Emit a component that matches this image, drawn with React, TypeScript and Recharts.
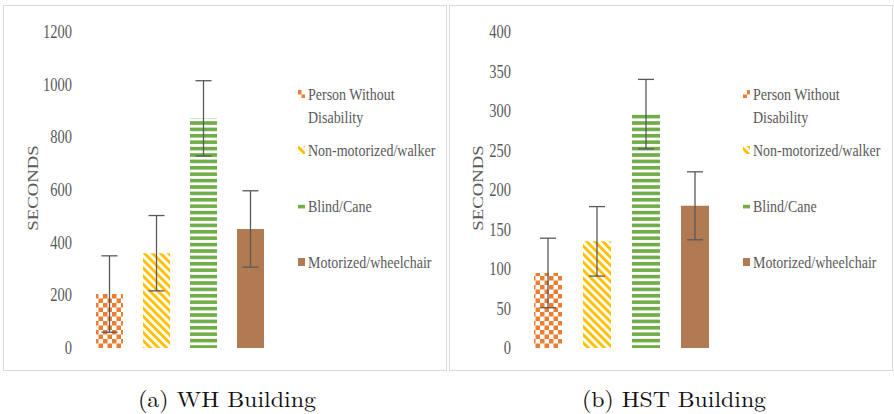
import React from 'react';
import { BarChart, Bar, XAxis, YAxis, ErrorBar } from 'recharts';

const categories = ['Person Without Disability', 'Non-motorized/walker', 'Blind/Cane', 'Motorized/wheelchair'];
const legendLines = [['Person Without', 'Disability'], ['Non-motorized/walker'], ['Blind/Cane'], ['Motorized/wheelchair']];
const whValues = [205, 360, 872, 452];
const whErrors = [145, 143, 143, 145];
const hstValues = [95, 135, 296, 180];
const hstErrors = [44, 44, 44, 43];
const whTicks = [0, 200, 400, 600, 800, 1000, 1200];
const hstTicks = [0, 50, 100, 150, 200, 250, 300, 350, 400];
const captions = ['(a) WH Building', '(b) HST Building'];
const yAxisTitle = 'SECONDS';

const fills = ['url(#pCheck)', 'url(#pDiag)', 'url(#pHoriz)', '#B27A52'];
const TEXT = '#595959';
const SERIF = 'Liberation Serif';
const CM = 'Latin Modern Roman';
const SY = 1.25;

const buildRow = (values: number[], errors: number[]) => {
  const row: Record<string, any> = { name: 'all' };
  values.forEach((v, i) => {
    row['v' + i] = v;
    row['e' + i] = errors[i];
  });
  return [row];
};

const Tick = (props: any) => {
  const { x, y, payload } = props;
  return (
    <g transform={`translate(${x},${y}) scale(1,${SY})`}>
      <text x={0} y={0} textAnchor="end" dominantBaseline="central" fill={TEXT} fontFamily={SERIF} fontSize={14.5}>
        {payload.value}
      </text>
    </g>
  );
};

const AxisTitle = (dx: number) => (props: any) => {
  const vb = props.viewBox || { x: 0, y: 0, width: 0, height: 0 };
  const cx = vb.x + dx;
  const cy = vb.y + vb.height / 2 - 2;
  return (
    <g transform={`translate(${cx},${cy}) scale(1,${SY}) rotate(-90)`}>
      <text x={0} y={0} textAnchor="middle" dominantBaseline="central" fill={TEXT} fontFamily={SERIF} fontSize={15}>
        {yAxisTitle}
      </text>
    </g>
  );
};

type PanelProps = {
  left: number;
  values: number[];
  errors: number[];
  ticks: number[];
  yWidth: number;
  tickMargin: number;
  marginRight: number;
  barSize: number;
  barGap: number;
  titleDx: number;
};

const Panel = (p: PanelProps) => {
  const data = buildRow(p.values, p.errors);
  return (
    <div
      style={{
        position: 'absolute',
        left: p.left,
        top: 5,
        width: 444,
        height: 366,
        border: '1px solid #d9d9d9',
        boxSizing: 'border-box',
        background: '#fff',
      }}
    >
      <BarChart
        width={442}
        height={364}
        data={data}
        margin={{ top: 26, right: p.marginRight, bottom: 22, left: 0 }}
        barSize={p.barSize}
        barGap={p.barGap}
      >
        <XAxis dataKey="name" hide />
        <YAxis
          width={p.yWidth}
          domain={[p.ticks[0], p.ticks[p.ticks.length - 1]]}
          ticks={p.ticks}
          axisLine={false}
          tickLine={false}
          tickSize={0}
          tickMargin={p.tickMargin}
          tick={<Tick />}
          interval={0}
          label={{ content: AxisTitle(p.titleDx) } as any}
        />
        {categories.map((c, i) => (
          <Bar key={c} dataKey={'v' + i} name={c} fill={fills[i]} isAnimationActive={false}>
            <ErrorBar dataKey={'e' + i} width={8} stroke="#595959" strokeWidth={1.3} direction="y" />
          </Bar>
        ))}
      </BarChart>
    </div>
  );
};

const legendCenters = [94, 150, 206, 262];

const Legend = ({ markerX }: { markerX: number }) => (
  <g>
    {legendLines.map((lines, i) => (
      <g key={i}>
        <rect x={markerX} y={legendCenters[i] - 4} width={7} height={8} fill={fills[i]} />
        {lines.map((ln, j) => (
          <g key={j} transform={`translate(${markerX + 10},${legendCenters[i] + j * 23}) scale(1,${SY})`}>
            <text x={0} y={0} dominantBaseline="central" fill={TEXT} fontFamily={SERIF} fontSize={14}>
              {ln}
            </text>
          </g>
        ))}
      </g>
    ))}
  </g>
);

export default function App() {
  return (
    <div style={{ position: 'absolute', left: 0, top: 0, width: 894, height: 414, background: '#fff', overflow: 'hidden' }}>
      <svg width={0} height={0} style={{ position: 'absolute' }}>
        <defs>
          <pattern id="pCheck" width={9} height={9} patternUnits="userSpaceOnUse">
            <rect x={0} y={0} width={9} height={9} fill="#fff" />
            <rect x={0} y={0} width={4.5} height={4.5} fill="#ED7D31" />
            <rect x={4.5} y={4.5} width={4.5} height={4.5} fill="#ED7D31" />
          </pattern>
          <pattern id="pDiag" width={10} height={5.7} patternUnits="userSpaceOnUse" patternTransform="rotate(45)">
            <rect x={0} y={0} width={10} height={5.7} fill="#fff" />
            <rect x={0} y={0} width={10} height={2.9} fill="#FFC000" />
          </pattern>
          <pattern id="pHoriz" width={10} height={6.4} patternUnits="userSpaceOnUse">
            <rect x={0} y={0} width={10} height={6.4} fill="#fff" />
            <rect x={0} y={0} width={10} height={3.6} fill="#70AD47" />
          </pattern>
        </defs>
      </svg>
      <Panel
        left={3}
        values={whValues}
        errors={whErrors}
        ticks={whTicks}
        yWidth={76}
        tickMargin={8}
        marginRight={167}
        barSize={27}
        barGap={20}
        titleDx={29}
      />
      <Panel
        left={449}
        values={hstValues}
        errors={hstErrors}
        ticks={hstTicks}
        yWidth={72}
        tickMargin={11}
        marginRight={171}
        barSize={28}
        barGap={21}
        titleDx={28}
      />
      <svg width={894} height={414} style={{ position: 'absolute', left: 0, top: 0, pointerEvents: 'none' }}>
        <Legend markerX={298} />
        <Legend markerX={743} />
        <text x={227} y={407} textAnchor="middle" fontFamily={CM} fontSize={22} fill="#111" textLength={178} lengthAdjust="spacingAndGlyphs">
          {captions[0]}
        </text>
        <text x={674} y={407} textAnchor="middle" fontFamily={CM} fontSize={22} fill="#111" textLength={184} lengthAdjust="spacingAndGlyphs">
          {captions[1]}
        </text>
      </svg>
    </div>
  );
}
